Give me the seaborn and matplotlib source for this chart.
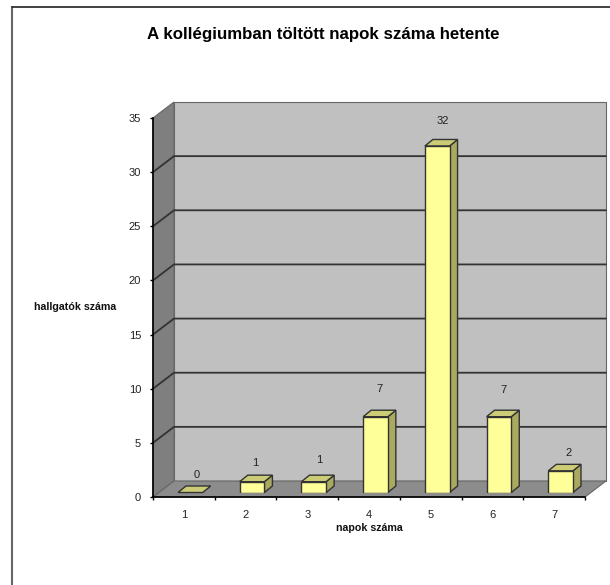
import matplotlib
matplotlib.use('Agg')
import matplotlib.pyplot as plt
from matplotlib.patches import Polygon
from matplotlib.transforms import Affine2D
import pandas as pd
import seaborn as sns

days = ['1', '2', '3', '4', '5', '6', '7']
counts = [0, 1, 1, 7, 32, 7, 2]
y_ticks = [0, 5, 10, 15, 20, 25, 30, 35]

# pixel offsets of the data labels from the bar top, they wander a bit in the original
label_dx = [6, 3, 5, 4, 6, 5, 8]
label_dy = [18, 19, 22, 28, 25, 27, 18]

W, H = 610, 585
sns.set_theme(style='white')
plt.rcParams['font.family'] = ['Liberation Sans', 'DejaVu Sans']

fig = plt.figure(figsize=(W / 100, H / 100), dpi=100, facecolor='white')


def px_axes(x0, y0, x1, y1):
    # y given from the top of the picture
    return fig.add_axes([x0 / W, 1 - y0 / H, (x1 - x0) / W, (y0 - y1) / H])


df = pd.DataFrame({'day': days, 'count': counts})

# front plane, holds the ticks
ax = px_axes(153, 497, 585, 118)
ax.set_ylim(0, 35)
ax.set_xlim(-0.5, 6.5)
ax.patch.set_alpha(0)

# bars stand a little behind the front plane
ax_bar = px_axes(159.5, 492.5, 591.5, 113.5)
sns.barplot(data=df, x='day', y='count', ax=ax_bar, color='#FFFF99', width=0.4,
            saturation=1, edgecolor='#333333', linewidth=1.0, zorder=5)
ax_bar.set_ylim(0, 35)
ax_bar.set_xlim(-0.5, 6.5)
ax_bar.axis('off')
ax_bar.patch.set_alpha(0)

ax.set_xticks([i - 0.5 for i in range(8)])
ax.set_xticklabels([])
ax.set_xticks(range(7), days, minor=True)
ax.tick_params(axis='x', which='major', direction='out', length=2.5, width=1, color='black', bottom=True)
ax.tick_params(axis='x', which='minor', length=0, pad=9.5, labelsize=8, labelcolor='#222222')
ax.set_yticks(y_ticks)
ax.tick_params(axis='y', direction='out', length=2.5, width=1, color='black', left=True, pad=6,
               labelsize=8, labelcolor='#222222')
for s in ['top', 'right']:
    ax.spines[s].set_visible(False)
for s in ['left', 'bottom']:
    ax.spines[s].set_color('black')
    ax.spines[s].set_linewidth(1.2)

# walls, built from the front axes with a pixel shift for the depth
back = ax.transData + Affine2D().translate(21, 16)
front = ax.transData
xa, xb = -0.5, 6.5


def to_fig(tr, x, y):
    return fig.transFigure.inverted().transform(tr.transform((x, y)))


def wall(points, color):
    fig.add_artist(Polygon(points, closed=True, facecolor=color, edgecolor='#666666', linewidth=0.8,
                           transform=fig.transFigure, zorder=-5))


wall([to_fig(back, xa, 0), to_fig(back, xb, 0), to_fig(back, xb, 35), to_fig(back, xa, 35)], '#C0C0C0')
wall([to_fig(front, xa, 0), to_fig(back, xa, 0), to_fig(back, xa, 35), to_fig(front, xa, 35)], '#7F7F7F')
wall([to_fig(front, xa, 0), to_fig(front, xb, 0), to_fig(back, xb, 0), to_fig(back, xa, 0)], '#8C8C8C')

for v in y_ticks[1:-1]:
    p0, p1, p2 = to_fig(front, xa, v), to_fig(back, xa, v), to_fig(back, xb, v)
    fig.add_artist(plt.Line2D([p0[0], p1[0], p2[0]], [p0[1], p1[1], p2[1]], color='#333333', linewidth=1.3,
                              transform=fig.transFigure, zorder=-4))

# side and top faces of the bars
dep = Affine2D().translate(8, 6.5)
for bar, val, dx, dy in zip(ax_bar.patches, counts, label_dx, label_dy):
    x0, x1 = bar.get_x(), bar.get_x() + bar.get_width()
    shift = ax_bar.transData + dep
    if val > 0:
        side = [ax_bar.transData.transform((x1, 0)), shift.transform((x1, 0)),
                shift.transform((x1, val)), ax_bar.transData.transform((x1, val))]
        ax_bar.add_patch(Polygon(side, closed=True, facecolor='#A9A960', edgecolor='#333333', linewidth=1.0,
                                 transform=None, zorder=4, clip_on=False))
    top = [ax_bar.transData.transform((x0, val)), ax_bar.transData.transform((x1, val)),
           shift.transform((x1, val)), shift.transform((x0, val))]
    ax_bar.add_patch(Polygon(top, closed=True, facecolor='#CCCC77', edgecolor='#333333', linewidth=1.0,
                             transform=None, zorder=4, clip_on=False))
    ax_bar.annotate(str(val), xy=(bar.get_x() + bar.get_width() / 2, val), xytext=(dx, dy),
                    textcoords='offset pixels', ha='center', va='center', fontsize=8, color='#222222',
                    annotation_clip=False)

fig.text(323 / W, 1 - 35 / H, 'A kollégiumban töltött napok száma hetente', ha='center', va='center',
         fontsize=12.2, fontweight='bold', color='black')
fig.text(75.5 / W, 1 - 307 / H, 'hallgatók száma', ha='center', va='center', fontsize=7.7, fontweight='bold',
         color='#111111')
fig.text(369 / W, 1 - 528 / H, 'napok száma', ha='center', va='center', fontsize=7.7, fontweight='bold',
         color='#111111')

# chart frame, only left and top are visible in the crop
fig.add_artist(plt.Line2D([12 / W, 12 / W], [0, 1 - 7 / H], color='#666666', linewidth=1.5,
                          transform=fig.transFigure))
fig.add_artist(plt.Line2D([12 / W, 1], [1 - 7 / H, 1 - 7 / H], color='#222222', linewidth=1.2,
                          transform=fig.transFigure))

fig.savefig('out.png', dpi=100)
